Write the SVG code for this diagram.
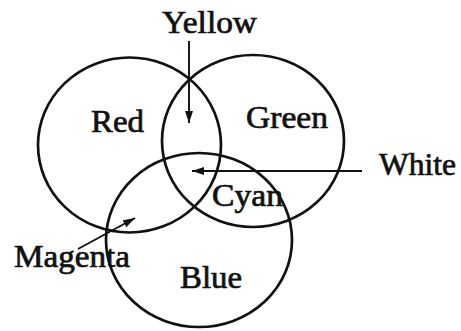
<svg xmlns="http://www.w3.org/2000/svg" width="461" height="331" viewBox="0 0 461 331">
  <defs>
    <style>
      .ring { fill: none; stroke: #111; stroke-width: 2.7; }
      .lbl { font-family: "Liberation Serif", "Times New Roman", serif; font-size: 31px; fill: #111; stroke: #111; stroke-width: 0.7; }
      .arr { fill: none; stroke: #111; stroke-width: 1.9; marker-end: url(#ah); }
    </style>
    <marker id="ah" viewBox="0 0 12 8" refX="12" refY="4" markerWidth="12" markerHeight="8" orient="auto" markerUnits="userSpaceOnUse">
      <path d="M0,0 L12,4 L0,8 z" fill="#111"/>
    </marker>
  </defs>
  <rect width="461" height="331" fill="#fff"/>

  <g id="red">
    <ellipse class="ring" cx="129.5" cy="145" rx="91.5" ry="87.5"/>
    <text class="lbl" x="91" y="132" textLength="53" lengthAdjust="spacingAndGlyphs">Red</text>
  </g>
  <g id="green">
    <ellipse class="ring" cx="253" cy="141" rx="91" ry="86"/>
    <text class="lbl" x="246" y="128" textLength="82" lengthAdjust="spacingAndGlyphs">Green</text>
  </g>
  <g id="blue">
    <ellipse class="ring" cx="199" cy="240" rx="93" ry="87"/>
    <text class="lbl" x="180" y="288" textLength="62" lengthAdjust="spacingAndGlyphs">Blue</text>
  </g>
  <g id="yellow">
    <text class="lbl" x="162" y="33" font-size="29" textLength="95" lengthAdjust="spacingAndGlyphs">Yellow</text>
  </g>
  <g id="white">
    <text class="lbl" x="379" y="175" textLength="77" lengthAdjust="spacingAndGlyphs">White</text>
  </g>
  <g id="cyan">
    <text class="lbl" x="212" y="206" textLength="71" lengthAdjust="spacingAndGlyphs">Cyan</text>
  </g>
  <g id="magenta">
    <text class="lbl" x="14" y="267" textLength="116" lengthAdjust="spacingAndGlyphs">Magenta</text>
  </g>

  <g id="connectors">
    <line class="arr" x1="189" y1="41" x2="189" y2="123"/>
    <line class="arr" x1="362" y1="171" x2="192" y2="171"/>
    <line class="arr" x1="78" y1="249" x2="135" y2="218"/>
  </g>
</svg>
